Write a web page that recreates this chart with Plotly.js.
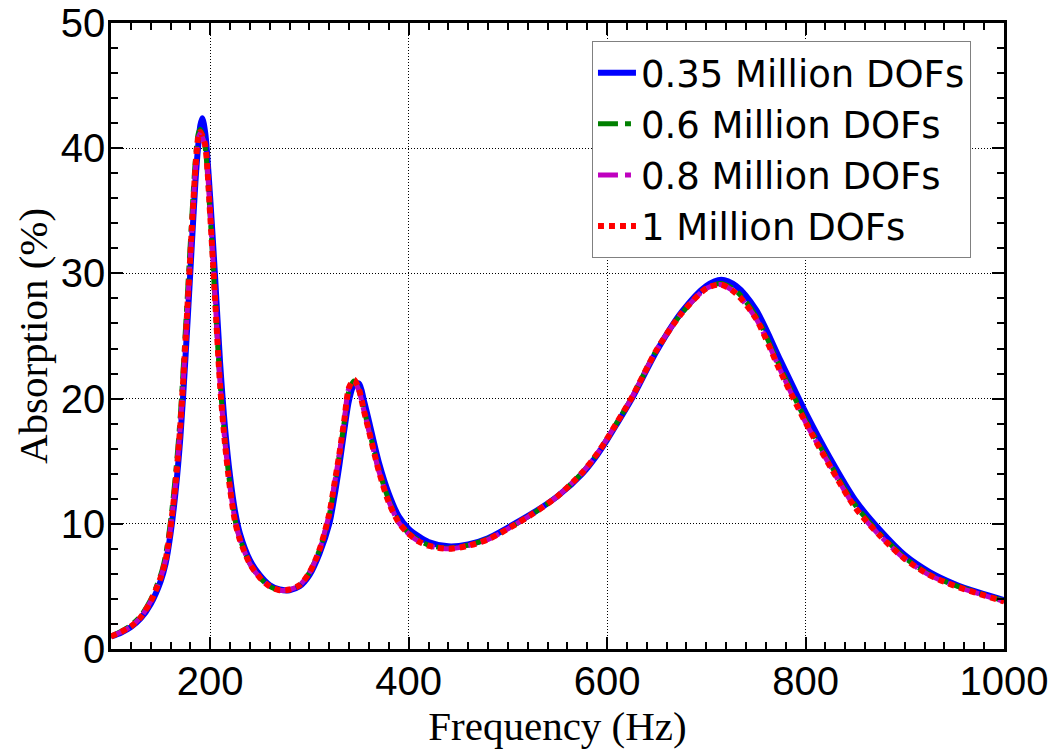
<!DOCTYPE html>
<html>
<head>
<meta charset="utf-8">
<script src="https://cdn.plot.ly/plotly-3.0.1.min.js"></script>
<style>
  html, body { margin: 0; padding: 0; background: #ffffff; }
  #chart { width: 1060px; height: 749px; }
</style>
</head>
<body>
<div id="chart"></div>
<script>
// Frequency (Hz)
const frequency = [100,110,120,130,140,150,155,160,165,170,175,180,185,188,190,192,195,200,205,210,215,220,225,230,240,250,260,270,280,290,300,310,320,325,330,335,340,345,350,355,360,370,380,390,400,410,420,440,460,480,500,525,550,575,590,600,610,625,650,675,700,715,730,750,775,800,825,850,875,900,925,950,975,1000];

// Absorption (%) for each mesh
const dofs035 = [1.0,1.3,1.75,2.45,3.6, 5.4,6.8,9.2,12.5,17.0, 23.2,30.2,37.2,40.3,41.8, 42.4,41.2,36.0,29.6,22.8, 17.6,13.8,11.0,9.2,7.1, 5.9,5.1,4.75,4.7,5.0, 5.9,7.6,10.0,12.1,14.6, 17.4,19.9,21.1,21.2,19.8, 18.2,14.9,12.4,10.6,9.6, 9.0,8.55,8.2,8.35,8.85, 9.7,10.85,12.2,14.0,15.5, 16.7,18.0,20.0,23.8,26.9, 29.0,29.5,29.0,27.1,23.0, 18.9,15.2,11.9,9.5,7.5, 6.15,5.2,4.5,3.9];

const dofs06 = [1.0,1.4,1.9,2.65,3.95, 5.9,7.5,10.2,13.9,18.8, 25.5,32.5,39.0,41.2,41.5, 41.1,40.0,34.5,27.6,21.2, 16.5,13.0,10.3,8.8,6.8, 5.7,5.0,4.7,4.75,5.1, 6.1,7.9,10.7,13.0,15.4, 18.1,20.7,21.4,20.7,19.1, 17.5,14.3,11.9,10.2,9.25, 8.7,8.3,8.05,8.3,8.8, 9.6,10.8,12.2,14.1,15.6, 16.8,18.1,20.1,23.9,26.8, 28.8,29.2,28.6,26.6,22.4, 18.3,14.75,11.5,9.2,7.3, 5.95,5.1,4.45,3.85];

const dofs08 = [1.0,1.35,1.8,2.55,3.8, 5.7,7.1,9.7,13.2,18.0, 24.4,31.4,38.2,40.8,41.2, 40.9,40.1,34.8,27.9,21.1, 16.4,12.9,10.3,8.75,6.8, 5.7,5.0,4.7,4.75,5.1, 6.1,7.9,10.8,13.1,15.5, 18.2,20.9,21.4,20.6,19.0, 17.4,14.2,11.8,10.1,9.2, 8.6,8.25,8.0,8.25,8.75, 9.6,10.8,12.2,14.1,15.6, 16.8,18.1,20.1,23.9,26.8, 28.8,29.1,28.4,26.4,22.2, 18.1,14.6,11.3,9.05,7.2, 5.9,5.05,4.4,3.8];

const dofs1 = [1.0,1.35,1.8,2.55,3.8, 5.7,7.1,9.7,13.2,18.0, 24.5,31.5,38.3,40.9,41.3, 41.0,40.2,34.6,27.8,21.0, 16.3,12.8,10.2,8.7,6.8, 5.7,5.0,4.7,4.75,5.1, 6.1,7.9,10.8,13.1,15.5, 18.2,20.9,21.5,20.7,19.0, 17.4,14.2,11.7,10.1,9.2, 8.6,8.25,8.0,8.25,8.75, 9.6,10.8,12.2,14.1,15.6, 16.8,18.1,20.1,23.9,26.8, 28.8,29.1,28.4,26.4,22.1, 18.1,14.55,11.3,9.05,7.2, 5.9,5.05,4.4,3.8];

const seriesNames = ['0.35 Million DOFs', '0.6 Million DOFs', '0.8 Million DOFs', '1 Million DOFs'];
const xTickVals = [200, 400, 600, 800, 1000];
const yTickVals = [0, 10, 20, 30, 40, 50];

const seriesData = [dofs035, dofs06, dofs08, dofs1];
const seriesStyle = [
  {color: '#0000ff', width: 6, dash: 'solid'},
  {color: '#008000', width: 5, dash: '20px,7px,6px,7px'},
  {color: '#bf00bf', width: 5, dash: '20px,7px,6px,7px'},
  {color: '#ff0000', width: 6, dash: '6px,5px'}
];

const traces = seriesData.map((ys, i) => ({
  type: 'scatter',
  mode: 'lines',
  x: frequency,
  y: ys,
  name: seriesNames[i],
  line: {color: seriesStyle[i].color, width: seriesStyle[i].width, dash: seriesStyle[i].dash, shape: 'spline', smoothing: 0.8}
}));

const axisCommon = {
  showline: true,
  linecolor: '#000000',
  linewidth: 2.5,
  mirror: 'ticks',
  ticks: 'inside',
  ticklen: 12,
  tickwidth: 2,
  tickcolor: '#000000',
  showgrid: true,
  gridcolor: '#000000',
  gridwidth: 1,
  griddash: '1px,2px',
  zeroline: false,
  tickfont: {family: 'Liberation Sans, Arial, sans-serif', size: 40, color: '#000000'}
};

const layout = {
  width: 1060,
  height: 749,
  paper_bgcolor: '#ffffff',
  plot_bgcolor: '#ffffff',
  margin: {l: 111, r: 56, t: 23, b: 100, pad: 0},
  showlegend: true,
  legend: {
    x: 0.5386, y: 0.971, xanchor: 'left', yanchor: 'top',
    bgcolor: '#ffffff', bordercolor: '#808080', borderwidth: 1,
    font: {family: 'DejaVu Sans, sans-serif', size: 37, color: '#000000'},
    itemwidth: 38
  },
  xaxis: Object.assign({}, axisCommon, {
    range: [100, 1000],
    tickvals: xTickVals,
    ticktext: xTickVals.map(String),
    ticklabelstandoff: -5,
    minor: {dtick: 20, tick0: 100, ticks: 'inside', ticklen: 7, tickwidth: 2, tickcolor: '#000000', showgrid: false},
    title: {text: 'Frequency (Hz)', font: {family: 'Liberation Serif, Times New Roman, serif', size: 41, color: '#000000'}, standoff: 0}
  }),
  yaxis: Object.assign({}, axisCommon, {
    range: [0, 50],
    tickvals: yTickVals,
    ticktext: yTickVals.map(String),
    ticklabelstandoff: -5,
    minor: {dtick: 2, tick0: 0, ticks: 'inside', ticklen: 7, tickwidth: 2, tickcolor: '#000000', showgrid: false},
    title: {text: 'Absorption (%)', font: {family: 'Liberation Serif, Times New Roman, serif', size: 41, color: '#000000'}, standoff: 1}
  })
};

Plotly.newPlot('chart', traces, layout, {displayModeBar: false, responsive: false});
</script>
</body>
</html>
